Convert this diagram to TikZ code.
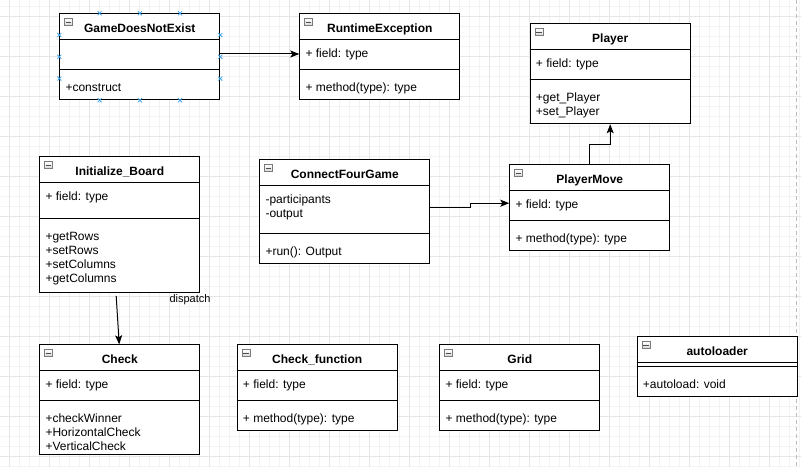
\documentclass[tikz,border=0pt]{standalone}
\usepackage{fontspec}
\setmainfont{Liberation Sans}
\usetikzlibrary{arrows.meta,calc}
\definecolor{gridminor}{HTML}{F3F3F3}
\definecolor{gridmajor}{HTML}{E6E6E6}
\definecolor{pageline}{HTML}{BDBDBD}
\definecolor{handle}{HTML}{3BA4EA}
\definecolor{icbord}{HTML}{7A7A7A}
\definecolor{icfill}{HTML}{D4D4D4}

\tikzset{
  umlrect/.style={draw=black, fill=white, line width=0.75pt, anchor=north west, inner sep=0pt},
  umlline/.style={draw=black, line width=0.75pt},
  umltitle/.style={anchor=base, inner sep=0pt, font=\fontsize{9}{10}\selectfont\bfseries},
  umltext/.style={anchor=base west, inner sep=0pt, font=\fontsize{9}{10}\selectfont},
  umlicon/.style={anchor=north west, draw=icbord, top color=white, bottom color=icfill, line width=0.5pt, minimum width=6pt, minimum height=5.25pt, inner sep=0pt},
  icminus/.style={draw=black!70, line width=0.6pt},
  conn/.style={draw=black, line width=0.75pt, -{Stealth[length=6.75pt,width=5.25pt,inset=1.5pt]}},
  edgelabel/.style={anchor=base, inner sep=0pt, font=\fontsize{8.25}{9}\selectfont},
  hx/.style={draw=handle, line width=0.6pt},
}

\newcommand{\umlbox}[7]{%
  \node[umlrect, minimum width={#4*0.75pt}, minimum height={#5*0.75pt}] (#1) at (#2,#3) {};
  \draw[umlline] ([yshift=-19.5pt]#1.north west) -- ([yshift=-19.5pt]#1.north east);
  \draw[umlline] ([yshift={-#6*0.75pt}]#1.north west) -- ([yshift={-#6*0.75pt}]#1.north east);
  \node[umltitle] (#1-t) at ([yshift=-14.4pt]#1.north) {#7};
  \node[umlicon] (#1-i) at ([xshift=3.75pt,yshift=-3.75pt]#1.north west) {};
  \draw[icminus] ([xshift=1.2pt]#1-i.west) -- ([xshift=-1.2pt]#1-i.east);
}
\newcommand{\umlattrs}[2]{%
  \foreach \ltext [count=\idx] in {#2} {%
    \node[umltext] (#1-a\idx) at ([xshift=4.5pt,yshift={-(44+14*(\idx-1))*0.75pt}]#1.north west) {\ltext};}%
}
\newcommand{\umlmeths}[3]{%
  \foreach \ltext [count=\idx] in {#3} {%
    \node[umltext] (#1-m\idx) at ([xshift=4.5pt,yshift={-(#2+22+14*(\idx-1))*0.75pt}]#1.north west) {\ltext};}%
}

\begin{document}
\begin{tikzpicture}[x=0.75pt, y=-0.75pt]
\useasboundingbox (0,0) rectangle (801,467);
\fill[white] (0,0) rectangle (801,467);
% grid
\foreach \gi in {0,...,79} {\draw[gridminor, line width=0.75pt] (\gi*10+9.7,0) -- (\gi*10+9.7,467);}
\foreach \gj in {0,...,46} {\draw[gridminor, line width=0.75pt] (0,\gj*10+6.3) -- (801,\gj*10+6.3);}
\foreach \gi in {0,...,19} {\draw[gridmajor, line width=0.75pt] (\gi*40+9.7,0) -- (\gi*40+9.7,467);}
\foreach \gj in {0,...,11} {\draw[gridmajor, line width=0.75pt] (0,\gj*40+16.3) -- (801,\gj*40+16.3);}
\draw[pageline, line width=0.75pt, dash pattern=on 3pt off 2.25pt] (796.3,0) -- (796.3,467);

% classes
\umlbox{gdne}{59.3}{13.3}{160}{86}{56}{GameDoesNotExist}
\umlmeths{gdne}{56}{+construct}

\umlbox{rte}{299.3}{13.3}{160}{86}{56}{RuntimeException}
\umlattrs{rte}{+ field: type}
\umlmeths{rte}{56}{+ method(type): type}

\umlbox{player}{529.7}{23.3}{160}{100}{56}{Player}
\umlattrs{player}{+ field: type}
\umlmeths{player}{56}{+get\_Player,+set\_Player}

\umlbox{ib}{39.3}{156.3}{160}{136}{62}{Initialize\_Board}
\umlattrs{ib}{+ field: type}
\umlmeths{ib}{62}{+getRows,+setRows,+setColumns,+getColumns}

\umlbox{cfg}{259.3}{159.3}{170}{104}{74}{ConnectFourGame}
\umlattrs{cfg}{-participants,-output}
\umlmeths{cfg}{74}{+run(): Output}

\umlbox{pm}{509.3}{164.3}{160}{86}{56}{PlayerMove}
\umlattrs{pm}{+ field: type}
\umlmeths{pm}{56}{+ method(type): type}

\umlbox{check}{39.3}{344.3}{160}{110}{56}{Check}
\umlattrs{check}{+ field: type}
\umlmeths{check}{56}{+checkWinner,+HorizontalCheck,+VerticalCheck}

\umlbox{cf}{236.7}{344.3}{160}{86}{56}{Check\_function}
\umlattrs{cf}{+ field: type}
\umlmeths{cf}{56}{+ method(type): type}

\umlbox{grid}{439.3}{344.3}{160}{86}{56}{Grid}
\umlattrs{grid}{+ field: type}
\umlmeths{grid}{56}{+ method(type): type}

\umlbox{auto}{636.7}{336.3}{160}{60}{30}{autoloader}
\umlmeths{auto}{30}{+autoload: void}

% selection handles on GameDoesNotExist
\foreach \f in {0.25,0.5,0.75} {
  \coordinate (ht) at ($(gdne.north west)!\f!(gdne.north east)$);
  \coordinate (hb) at ($(gdne.south west)!\f!(gdne.south east)$);
  \coordinate (hl) at ($(gdne.north west)!\f!(gdne.south west)$);
  \coordinate (hr) at ($(gdne.north east)!\f!(gdne.south east)$);
  \foreach \hp in {ht,hb,hl,hr} {
    \draw[hx] (\hp) +(-2,-2) -- +(2,2) +(-2,2) -- +(2,-2);
  }
}

% connectors
\draw[conn] ([yshift=2.1pt]gdne.east) -- ([yshift=2.1pt]rte.west);
\draw[conn] ([yshift=3pt]cfg.east) -- ++(40,0) |- ([yshift=3.45pt]pm.west);
\draw[conn] (pm.north) -- ++(0,-20) -| (player.south);
\draw[conn] ([xshift=-2.7pt,yshift=-2pt]ib.south) -- ([xshift=-0.45pt]check.north);
\node[edgelabel] (dl) at (190,302.5) {dispatch};
\end{tikzpicture}
\end{document}
